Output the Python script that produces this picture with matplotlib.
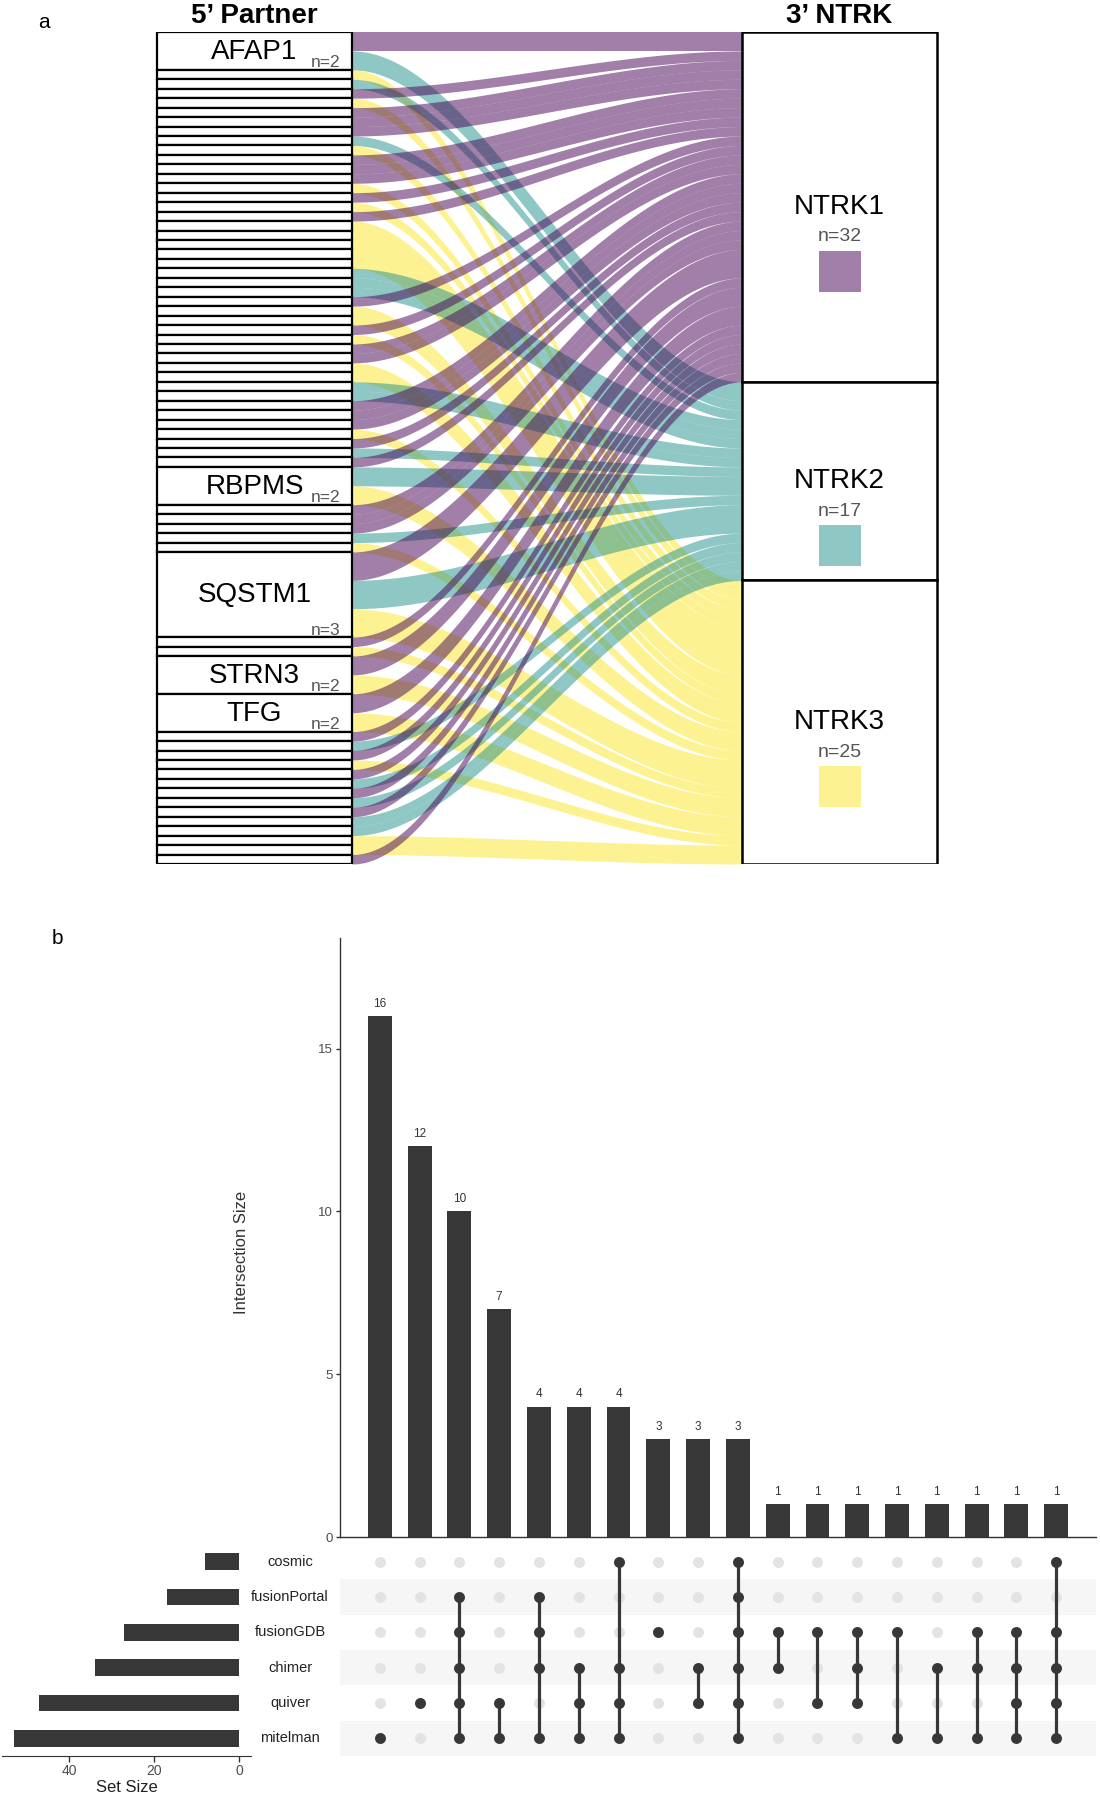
import matplotlib

matplotlib.use("Agg")
import matplotlib.pyplot as plt
import numpy as np
from matplotlib.patches import Rectangle
from matplotlib.transforms import blended_transform_factory

plt.rcParams["font.family"] = ["Liberation Sans", "DejaVu Sans"]

# ---------------- panel a: 5' partner -> 3' NTRK ----------------
NTRK_GENES = ["NTRK1", "NTRK2", "NTRK3"]
NTRK_COLORS = ["#440154", "#21908C", "#FDE725"]

# 5' partner strata top -> bottom; unnamed strata are single-fusion partners (no label)
PARTNER_NAMES = (
    ["AFAP1"] + [""] * 42 + ["RBPMS"] + [""] * 5 + ["SQSTM1"] + [""] * 2
    + ["STRN3", "TFG"] + [""] * 14
)
# NTRK gene(s) each partner is fused to (1 = NTRK1, 2 = NTRK2, 3 = NTRK3)
PARTNER_TARGETS = (
    ["12"]
    + list("321311123111313133333222133131133221113121")
    + ["23"]
    + list("11123")
    + ["123"]
    + list("13")
    + ["13", "13"]
    + list("12131212122331")
)

# ---------------- panel b: UpSet ----------------
SETS = ["cosmic", "fusionPortal", "fusionGDB", "chimer", "quiver", "mitelman"]
SET_SIZES = [8, 17, 27, 34, 47, 53]
INTERSECTION_SIZES = [16, 12, 10, 7, 4, 4, 4, 3, 3, 3, 1, 1, 1, 1, 1, 1, 1, 1]
INTERSECTION_SETS = [
    ["mitelman"],
    ["quiver"],
    ["fusionPortal", "fusionGDB", "chimer", "quiver", "mitelman"],
    ["quiver", "mitelman"],
    ["fusionPortal", "fusionGDB", "chimer", "mitelman"],
    ["chimer", "quiver", "mitelman"],
    ["cosmic", "chimer", "quiver", "mitelman"],
    ["fusionGDB"],
    ["chimer", "quiver"],
    ["cosmic", "fusionPortal", "fusionGDB", "chimer", "quiver", "mitelman"],
    ["fusionGDB", "chimer"],
    ["fusionGDB", "quiver"],
    ["fusionGDB", "chimer", "quiver"],
    ["fusionGDB", "mitelman"],
    ["chimer", "mitelman"],
    ["fusionGDB", "chimer", "mitelman"],
    ["fusionGDB", "chimer", "quiver", "mitelman"],
    ["cosmic", "fusionGDB", "chimer", "quiver", "mitelman"],
]

W, H = 1100, 1800
DARK = "#373737"
GREY_TXT = "#555555"

fig = plt.figure(figsize=(W / 100, H / 100), dpi=100)
fig.patch.set_facecolor("white")


def fx(px):
    return px / W


def fy(px):
    return 1 - px / H


# ---- alluvial layout
strata = []
flows = []
y = 0.0
for name, tgt in zip(PARTNER_NAMES, PARTNER_TARGETS):
    k = len(tgt)
    strata.append((name, k, y, y + k * k))
    for j, g in enumerate(sorted(tgt)):
        flows.append([int(g) - 1, y + j * k, y + (j + 1) * k])
    y += k * k
total = y

gene_w = [sum(f[2] - f[1] for f in flows if f[0] == g) for g in range(3)]
gene_top = np.concatenate([[0], np.cumsum(gene_w)[:-1]])
gene_n = [sum(1 for f in flows if f[0] == g) for g in range(3)]
cursor = list(gene_top)
for f in flows:
    w = f[2] - f[1]
    f += [cursor[f[0]], cursor[f[0]] + w]
    cursor[f[0]] += w

TOP_PX, BOT_PX = 32, 864
upx = (BOT_PX - TOP_PX) / total  # pixels per unit
ax_a = fig.add_axes([0, fy(BOT_PX), 1, (BOT_PX - TOP_PX) / H])
ax_a.set_xlim(0, W)
ax_a.set_ylim(total, 0)
ax_a.axis("off")

LX0, LX1 = 157, 352
RX0, RX1 = 742, 937

t = np.linspace(0, 1, 120)
s = 3 * t ** 2 - 2 * t ** 3
xs = LX1 + (RX0 - LX1) * t
for g, lt, lb, rt, rb in flows:
    top = lt + (rt - lt) * s
    bot = lb + (rb - lb) * s
    ax_a.fill_between(xs, top, bot, color=NTRK_COLORS[g], alpha=0.5, lw=0)

for name, k, y0, y1 in strata:
    ax_a.add_patch(Rectangle((LX0, y0), LX1 - LX0, y1 - y0, fc="white",
                             ec="black", lw=1.6, zorder=3))
    if name:
        ax_a.text((LX0 + LX1) / 2, (y0 + y1) / 2 + 0.1, name, ha="center",
                  va="center", fontsize=20, zorder=4)
        ax_a.text(340, y1 - 2.5 / upx, f"n={k}", ha="right", va="baseline",
                  fontsize=12.5, color=GREY_TXT, zorder=4)

for g in range(3):
    y0, y1 = gene_top[g], gene_top[g] + gene_w[g]
    cy = (y0 + y1) / 2
    cx = (RX0 + RX1) / 2
    ax_a.add_patch(Rectangle((RX0, y0), RX1 - RX0, y1 - y0, fc="white",
                             ec="black", lw=1.8, zorder=3))
    ax_a.text(cx, cy, NTRK_GENES[g], ha="center", va="center", fontsize=20, zorder=4)
    ax_a.text(cx, cy + 30 / upx, f"n={gene_n[g]}", ha="center", va="center",
              fontsize=14, color=GREY_TXT, zorder=4)
    ax_a.add_patch(Rectangle((cx - 21, cy + 44 / upx), 42, 41 / upx,
                             fc=NTRK_COLORS[g], alpha=0.5, lw=0, zorder=4))

ax_a.text((LX0 + LX1) / 2, -16 / upx, "5\u2019 Partner", ha="center", va="center",
          fontsize=20, fontweight="bold")
ax_a.text((RX0 + RX1) / 2, -16 / upx, "3\u2019 NTRK", ha="center", va="center",
          fontsize=20, fontweight="bold")
fig.text(fx(44), fy(22), "a", ha="center", va="center", fontsize=15)
fig.text(fx(57), fy(938), "b", ha="center", va="center", fontsize=15)

# ---- UpSet: intersection bars
MX0, MX1 = 340, 1096
BAR_TOP, BAR_BOT = 938, 1537
ax_bar = fig.add_axes([fx(MX0), fy(BAR_BOT), (MX1 - MX0) / W, (BAR_BOT - BAR_TOP) / H])
n_int = len(INTERSECTION_SIZES)
cols = np.arange(n_int)
ax_bar.bar(cols, INTERSECTION_SIZES, width=0.6, color=DARK)
for i, v in zip(cols, INTERSECTION_SIZES):
    ax_bar.text(i, v + 0.2, str(v), ha="center", va="bottom", fontsize=8.5, color="#333333")
ax_bar.set_xlim(-1, n_int)
ax_bar.set_ylim(0, 18.4)
ax_bar.set_xticks([])
ax_bar.set_yticks([0, 5, 10, 15])
ax_bar.tick_params(axis="y", length=3, width=1, colors="#333333", labelsize=9.5,
                   labelcolor="#4d4d4d", pad=2)
for side in ("top", "right"):
    ax_bar.spines[side].set_visible(False)
for side in ("left", "bottom"):
    ax_bar.spines[side].set_color("#333333")
    ax_bar.spines[side].set_linewidth(1)
fig.text(fx(242), fy(1252), "Intersection Size", rotation=90, ha="center",
         va="center", fontsize=12, color="#333333")

# ---- UpSet: matrix
MAT_TOP, MAT_BOT = 1544, 1756
ax_mat = fig.add_axes([fx(MX0), fy(MAT_BOT), (MX1 - MX0) / W, (MAT_BOT - MAT_TOP) / H])
n_sets = len(SETS)
row_of = {name: n_sets - 1 - r for r, name in enumerate(SETS)}
ax_mat.set_xlim(-1, n_int)
ax_mat.set_ylim(-0.5, n_sets - 0.5)
ax_mat.axis("off")
for name in SETS[1::2]:
    r = row_of[name]
    ax_mat.axhspan(r - 0.5, r + 0.5, color="#f6f6f6", lw=0, zorder=0)
for i, members in enumerate(INTERSECTION_SETS):
    ax_mat.scatter([i] * n_sets, range(n_sets), s=62, color="#e3e3e3", lw=0, zorder=1)
    rows = [row_of[m] for m in members]
    if len(rows) > 1:
        ax_mat.plot([i, i], [min(rows), max(rows)], color=DARK, lw=2.3, zorder=2,
                    solid_capstyle="butt")
    ax_mat.scatter([i] * len(rows), rows, s=62, color=DARK, lw=0, zorder=3)

# ---- UpSet: set sizes
ax_set = fig.add_axes([fx(2), fy(MAT_BOT), 249 / W, (MAT_BOT - MAT_TOP) / H])
ax_set.barh([row_of[n] for n in SETS], SET_SIZES, height=0.48, color=DARK)
ax_set.set_xlim(55.8, -2.8)
ax_set.set_ylim(-0.5, n_sets - 0.5)
ax_set.set_yticks([])
ax_set.set_xticks([0, 20, 40])
ax_set.tick_params(axis="x", length=4, width=1, colors="#333333", labelsize=10,
                   labelcolor="#4d4d4d", pad=2)
for side in ("top", "right", "left"):
    ax_set.spines[side].set_visible(False)
ax_set.spines["bottom"].set_color("#333333")
ax_set.set_xlabel("Set Size", fontsize=12, color="#222222", labelpad=1)

trans = blended_transform_factory(fig.transFigure, ax_mat.transData)
for name in SETS:
    fig.text(fx(290), row_of[name], name, transform=trans, ha="center", va="center",
             fontsize=10.5, color="#222222")

fig.savefig("out.png", dpi=100, facecolor="white")
